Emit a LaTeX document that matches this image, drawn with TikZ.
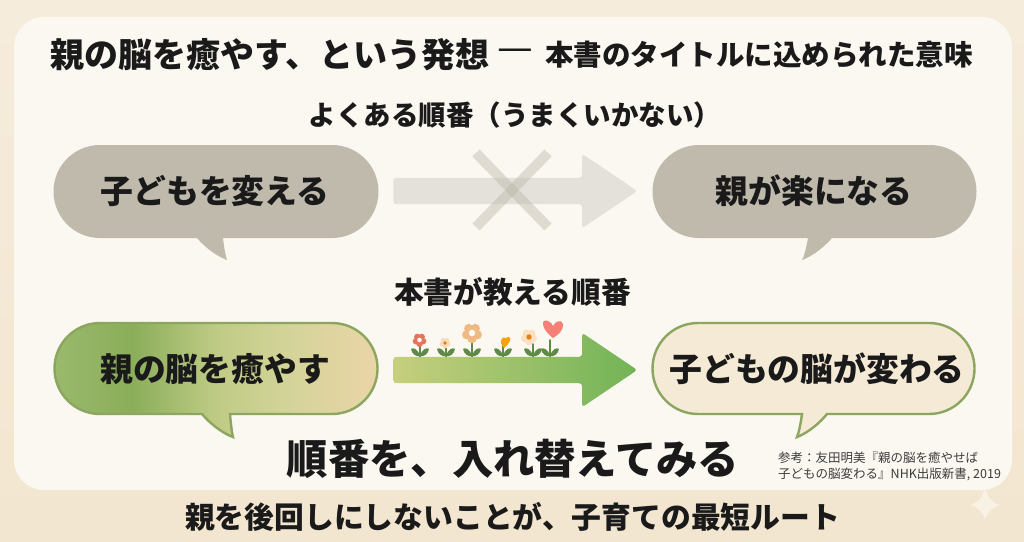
\documentclass[tikz,border=0pt]{standalone}
\usepackage{fontspec}
\setmainfont{Noto Sans CJK JP}
\usetikzlibrary{shapes.arrows}
\definecolor{inkBlack}{HTML}{1A1A1A}
\definecolor{paperTop}{HTML}{F6ECDC}
\definecolor{paperBottom}{HTML}{F3E6D0}
\definecolor{panelCream}{HTML}{FBF8F1}
\definecolor{sparkleCream}{HTML}{F8F1E4}
\definecolor{bubbleGray}{HTML}{BFBAAC}
\definecolor{arrowGray}{HTML}{E3E1DA}
\definecolor{crossGray}{HTML}{BDB8A8}
\definecolor{leafGreen}{HTML}{5F8A45}
\definecolor{lineGreen}{HTML}{8CA65F}
\definecolor{brainFill}{HTML}{F5EAD6}
\definecolor{arrowStart}{HTML}{C6CF7E}
\definecolor{arrowEnd}{HTML}{72B356}
\definecolor{healA}{HTML}{9AB96C}
\definecolor{healB}{HTML}{8AAE5A}
\definecolor{healC}{HTML}{BFCB85}
\definecolor{healD}{HTML}{D5D49A}
\definecolor{healE}{HTML}{EAD5A8}
\pgfdeclarehorizontalshading{healShade}{100bp}{
  color(0bp)=(healA);
  color(25bp)=(healA);
  color(37bp)=(healB);
  color(50bp)=(healC);
  color(62bp)=(healD);
  color(75bp)=(healE);
  color(100bp)=(healE)}
\tikzset{
  baseText/.style={text=inkBlack,inner sep=0pt,font=\bfseries\fontsize{#1}{#1}\selectfont},
  bubbleText/.style={baseText=32.8},
  blockArrow/.style={single arrow,single arrow head extend=24pt,single arrow tip angle=68,
    minimum height=244pt,inner xsep=0pt,inner ysep=13pt,rounded corners=3pt},
  crossBar/.style={crossGray,opacity=.45,line width=10pt},
  stem/.style={leafGreen,line width=1.8pt,line cap=round},
  leaf/.style={fill=leafGreen,draw=none},
  greenLine/.style={draw=lineGreen,line width=2.4pt}
}
% one speech bubble: left, right, top, bottom, then the tail (start x, tip x, tip y, end x)
\newcommand{\bubblePath}[8]{%
  (#1+46,#3) -- (#2-46,#3) arc[start angle=-90,end angle=90,radius=(#4-#3)/2]
  -- (#8,#4) .. controls (#8*.65+#6*.35,#4+.55*#7-.55*#4) and (#8*.25+#6*.75,#7-.12*#7+.12*#4) .. (#6,#7)
  .. controls (#6*.75+#5*.25,#7-.12*#7+.12*#4) and (#6*.35+#5*.65,#4+.55*#7-.55*#4) .. (#5,#4) -- (#1+46,#4)
  arc[start angle=90,end angle=270,radius=(#4-#3)/2] -- cycle}
\newcommand{\sprout}[3]{% foot x, foot y, height
  \draw[stem] (#1,#2) -- (#1,#2-#3);
  \fill[leaf] (#1,#2-2) .. controls (#1-2,#2-9) and (#1-7,#2-11) .. (#1-9,#2-9) .. controls (#1-8,#2-4) and (#1-4,#2-1) .. (#1,#2-2);
  \fill[leaf] (#1,#2-2) .. controls (#1+2,#2-9) and (#1+7,#2-11) .. (#1+9,#2-9) .. controls (#1+8,#2-4) and (#1+4,#2-1) .. (#1,#2-2);
}
\newcommand{\blossom}[5]{% x, y, petal radius, petal colour, heart colour
  \foreach \a in {90,162,234,306,18}
    \fill[#4] (#1,#2) ++(\a:#3) circle[radius=#3*0.85];
  \fill[#5] (#1,#2) circle[radius=#3*0.6];
}
\begin{document}
\begin{tikzpicture}[x=1pt,y=-1pt]

    \useasboundingbox (0,0) rectangle (1024,541);
    \shade[top color=paperTop,bottom color=paperBottom] (0,0) rectangle (1024,541);
    \fill[panelCream,rounded corners=30pt] (14,17) rectangle (1012,490);
    % sparkle
    \fill[sparkleCream] (985,486) .. controls (987,498) and (992,503) .. (1000,505)
      .. controls (992,507) and (987,512) .. (985,520) .. controls (983,512) and (978,507) .. (970,505)
      .. controls (978,503) and (983,498) .. (985,486);

    \node[baseText=34,anchor=west] (title) at (50,55) {親の脳を癒やす、という発想};
    \node[text=inkBlack,inner sep=0pt,anchor=west,font=\fontsize{40}{40}\selectfont] (dash) at (497,55) {—};
    \node[baseText=28.5,anchor=west] (subtitle) at (545,55) {本書のタイトルに込められた意味};
    \node[baseText=27.5] (badLabel) at (515,115) {よくある順番（うまくいかない）};
    \node[baseText=29.7] (goodLabel) at (512.5,292) {本書が教える順番};

    % upper row
    \fill[bubbleGray] \bubblePath{54}{378}{145}{238}{197}{227}{260}{223};
    \fill[bubbleGray] \bubblePath{653}{976}{145}{238}{808}{802}{260}{832};
    \node[bubbleText] (change) at (215,191) {子どもを変える};
    \node[bubbleText] (easy) at (814,191) {親が楽になる};
    \node[blockArrow,fill=arrowGray] (badArrow) at (505.5,191) {};
    \draw[crossBar] (476,153) -- (548,227);
    \draw[crossBar] (548,153) -- (476,227);

    % lower row
    \draw[greenLine,shading=healShade] \bubblePath{54}{378}{323}{414}{202}{233}{437}{230};
    \draw[greenLine,fill=brainFill] \bubblePath{652}{975}{323}{414}{802}{797}{437}{827};
    \node[bubbleText] (heal) at (215,369) {親の脳を癒やす};
    \node[bubbleText] (brain) at (817,369) {子どもの脳が変わる};

    % flowers on the arrow
    \sprout{420}{358}{12}
    \blossom{419.5}{340}{3.8}{red!45!brown!75!white}{panelCream}
    \sprout{446}{358}{10}
    \blossom{445}{343}{3}{panelCream!75!orange}{orange!40!brown}
    \sprout{472}{358}{18}
    \blossom{472}{333}{5.5}{brown!45!orange!55!white}{panelCream}
    \sprout{503}{358}{12}
    \fill[orange!70!yellow!90!brown] (504,348) .. controls (498,342) and (502,335) .. (506,338) .. controls (510,334) and (514,340) .. (504,348);
    \sprout{533}{358}{14}
    \blossom{529}{337}{4.5}{panelCream!80!orange}{orange!60!brown}
    \sprout{550}{358}{18}
    \fill[red!50!white!85!brown] (553,338) .. controls (540,328) and (541,318) .. (548,321) .. controls (551,322) and (552,324) .. (553,326)
      .. controls (555,321) and (562,319) .. (563,324) .. controls (564,330) and (558,335) .. (553,338);
    \node[blockArrow,left color=arrowStart,right color=arrowEnd] (goodArrow) at (505.5,370) {};

    \node[baseText=41.3] (swap) at (513,459) {順番を、入れ替えてみる};
    \node[baseText=29.8] (bottom) at (512.5,517) {親を後回しにしないことが、子育ての最短ルート};
    \node[text=inkBlack!85,inner sep=0pt,align=left,anchor=north west,font=\fontsize{12.5}{16}\selectfont] (source) at (778,452)
      {参考：友田明美『親の脳を癒やせば\\子どもの脳変わる』NHK出版新書, 2019};

\end{tikzpicture}
\end{document}
